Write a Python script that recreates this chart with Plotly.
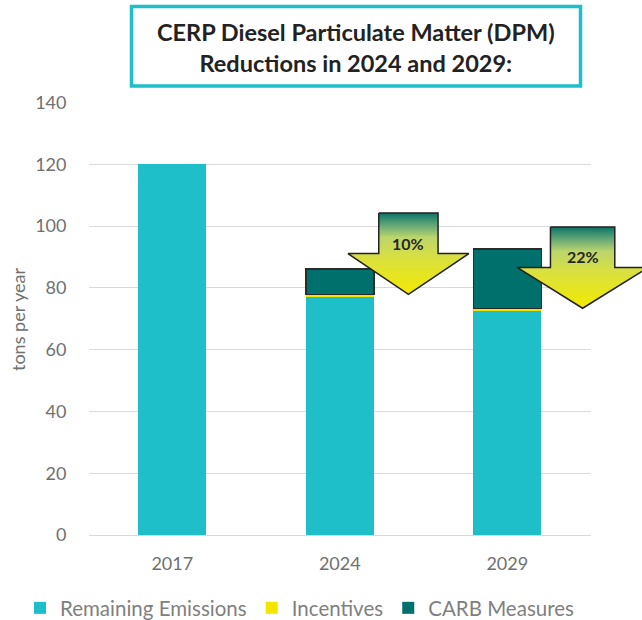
import plotly.graph_objects as go

# ---- data ----
years = ["2017", "2024", "2029"]
remaining = [120.0, 77.1, 72.6]
incentives = [0.0, 0.8, 0.8]
carb = [0.0, 8.2, 19.1]
reduction_labels = ["10%", "22%"]
arrow_years_idx = [1, 2]
y_ticks = [0, 20, 40, 60, 80, 100, 120, 140]

# ---- styling / geometry ----
W, H = 642, 620
PL, PR = 88.5, 591
PT, PB = 102.5, 535  # plot area top/bottom in pixels
x_range = [-0.5, 2.5]
y_range = [0, 140]
C_REM = "#1fbfca"
C_INC = "#f2e600"
C_CARB = "#00706c"
FONT = "Lato"
TICK_C = "#707070"


def py(px):  # pixel-from-top -> paper fraction
    return (H - px) / H


fig = go.Figure()
fig.add_trace(go.Bar(x=years, y=remaining, name="Remaining Emissions",
                     marker=dict(color=C_REM, line=dict(width=0))))
fig.add_trace(go.Bar(x=years, y=incentives, name="Incentives",
                     marker=dict(color=C_INC, line=dict(width=0))))
fig.add_trace(go.Bar(x=years, y=carb, name="CARB Measures",
                     marker=dict(color=C_CARB,
                                 line=dict(color="#2b2b2b",
                                           width=[1.5 if v > 0 else 0 for v in carb]))))

# overlay axes spanning the whole figure with same data mapping
xpp = (x_range[1] - x_range[0]) / (PR - PL)
ypp = (y_range[1] - y_range[0]) / (PB - PT)
x2_range = [x_range[0] - PL * xpp, x_range[1] + (W - PR) * xpp]
y2_range = [y_range[0] - (H - PB) * ypp, y_range[1] + PT * ypp]

# arrows (decorations) relative to bar totals
arrow_dx = [0.41, 0.45]
shaft_hw = [0.177, 0.192]
head_hw = [0.361, 0.391]
head_h = 13.2
shaft_h = 13.1
gradient = [[0, "#f3ea00"], [0.45, "#d9e040"], [0.7, "#bcd56c"],
            [0.86, "#5ea476"], [1, "#0b7467"]]
for k, i in enumerate(arrow_years_idx):
    cx = i + arrow_dx[k]
    tip = remaining[i] + incentives[i]
    sh = tip + head_h
    top = sh + shaft_h
    xs = [cx - shaft_hw[k], cx + shaft_hw[k], cx + shaft_hw[k], cx + head_hw[k], cx,
          cx - head_hw[k], cx - shaft_hw[k], cx - shaft_hw[k]]
    ys = [top, top, sh, sh, tip, sh, sh, top]
    fig.add_trace(go.Scatter(x=xs, y=ys, xaxis="x2", yaxis="y2", mode="lines",
                             fill="toself", showlegend=False, hoverinfo="skip",
                             line=dict(color="#222222", width=1.5),
                             fillgradient=dict(type="vertical", colorscale=gradient,
                                               start=tip, stop=top)))
    fig.add_annotation(x=cx, y=sh + 3.4, xref="x2", yref="y2", text=f"<b>{reduction_labels[k]}</b>",
                       showarrow=False, xanchor="center", yanchor="middle",
                       font=dict(family=FONT, size=16, color="#262626"))

fig.update_layout(
    width=W, height=H, autosize=False,
    margin=dict(l=0, r=0, t=0, b=0, pad=0, autoexpand=False),
    paper_bgcolor="white", plot_bgcolor="rgba(0,0,0,0)",
    barmode="stack", bargap=0.594,
    font=dict(family=FONT, color=TICK_C),
    xaxis=dict(domain=[PL / W, PR / W], range=x_range, type="category",
               showgrid=False, showline=False, ticks="", automargin=False,
               tickfont=dict(size=18, color=TICK_C), ticklabelstandoff=16),
    yaxis=dict(domain=[py(PB), py(PT)], range=y_range,
               tickvals=y_ticks, showgrid=True, gridcolor="#d9d9d9", gridwidth=1,
               zeroline=True, zerolinecolor="#d9d9d9", zerolinewidth=1,
               showline=False, ticks="", automargin=False,
               tickfont=dict(size=18, color=TICK_C), ticklabelstandoff=21),
    xaxis2=dict(domain=[0, 1], range=x2_range, anchor="y2",
                visible=False, fixedrange=True),
    yaxis2=dict(domain=[0, 1], range=y2_range, anchor="x2", visible=False, fixedrange=True),
    legend=dict(orientation="h", x=20 / W, xanchor="left", y=py(608), yanchor="middle",
                font=dict(family=FONT, size=20.5, color="#7f7f7f"), itemwidth=30,
                traceorder="normal", bgcolor="rgba(0,0,0,0)"),
    showlegend=True,
)

# y-axis title
fig.add_annotation(x=18 / W, y=py(320), xref="paper", yref="paper",
                   xanchor="center", yanchor="middle",
                   text="tons per year", textangle=-90, showarrow=False,
                   font=dict(family=FONT, size=18, color=TICK_C))

# title box
fig.add_shape(type="rect", xref="paper", yref="paper",
              x0=131.5 / W, x1=580.5 / W, y0=py(86), y1=py(6.5),
              line=dict(color=C_REM, width=3.5), fillcolor="white", layer="above")
fig.add_annotation(x=356 / W, y=py(47), xref="paper", yref="paper",
                   xanchor="center", yanchor="middle",
                   text="<b>CERP Diesel Particulate Matter (DPM)<br>Reductions in 2024 and 2029:</b>",
                   showarrow=False, align="center",
                   font=dict(family=FONT, size=23.5, color="#222222"))

fig.write_html("out.html", config={"displayModeBar": False, "responsive": False},
               post_script=("document.documentElement.style.margin='0';"
                            "document.body.style.margin='0';"))
